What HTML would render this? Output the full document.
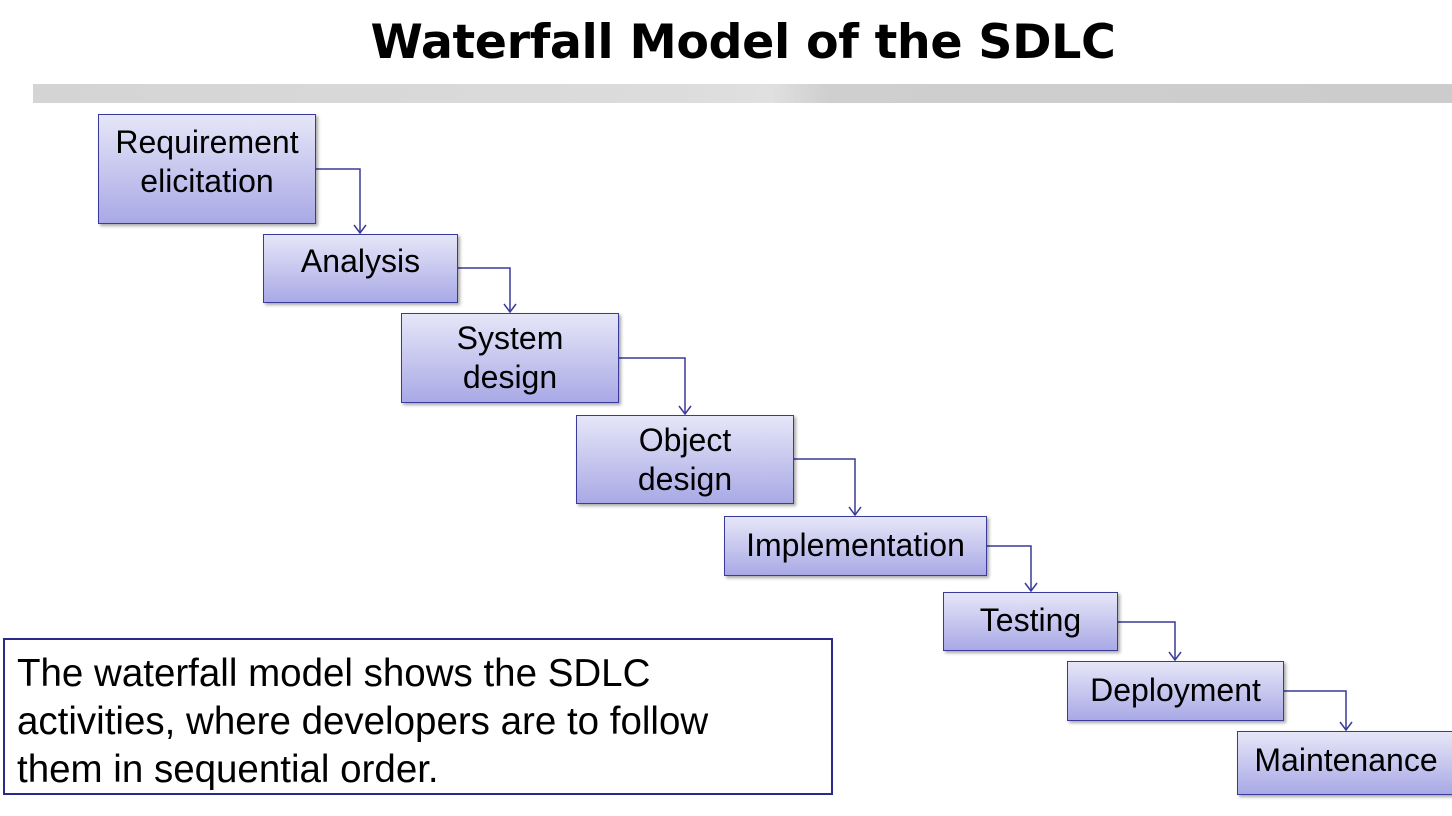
<!DOCTYPE html>
<html><head><meta charset="utf-8"><style>
body{margin:0;width:1452px;height:816px;background:#fff;position:relative;overflow:hidden;font-family:"Liberation Sans",Arial,sans-serif}
.title{position:absolute;left:0;width:1486px;top:15px;text-align:center;font-weight:bold;font-size:47.5px;color:#000;font-family:"DejaVu Sans","Liberation Sans",sans-serif;letter-spacing:-0.4px}
.bar{position:absolute;left:33px;top:84px;width:1419px;height:19px;background:linear-gradient(90deg,#d4d4d4 0%,#dcdcdc 45%,#e0e0e0 52%,#cfcfcf 56%,#cccccc 100%)}
.b{position:absolute;box-sizing:border-box;border:1.5px solid #3a3a9a;background:linear-gradient(#e6e6f8,#a9a9e6);box-shadow:2px 2px 3px rgba(0,0,0,.35);display:flex;align-items:center;justify-content:center;text-align:center;font-size:32px;line-height:39px;color:#000;white-space:nowrap}
.note{position:absolute;left:3px;top:638px;width:830px;height:157px;box-sizing:border-box;border:2px solid #2a2a8a;padding:10px 0 0 12px;font-size:38.5px;line-height:48px;color:#000;white-space:nowrap}
svg{position:absolute;left:0;top:0}
</style></head><body>
<div class="title">Waterfall Model of the SDLC</div>
<div class="bar"></div>
<svg width="1452" height="816">
<g fill="none" stroke="#3a3a9a" stroke-width="1.5">
<polyline points="316,169 360,169 360,233"/><polyline points="354,225 360,233 366,225"/>
<polyline points="458,268 510,268 510,312"/><polyline points="504,304 510,312 516,304"/>
<polyline points="619,358 685,358 685,414"/><polyline points="679,406 685,414 691,406"/>
<polyline points="794,459 855,459 855,515"/><polyline points="849,507 855,515 861,507"/>
<polyline points="987,546 1031,546 1031,591"/><polyline points="1025,583 1031,591 1037,583"/>
<polyline points="1118,622 1175,622 1175,660"/><polyline points="1169,652 1175,660 1181,652"/>
<polyline points="1284,691 1346,691 1346,730"/><polyline points="1340,722 1346,730 1352,722"/>
</g></svg>
<div class="b" style="left:98px;top:114px;width:218px;height:110px;padding-bottom:14px">Requirement<br>elicitation</div>
<div class="b" style="left:263px;top:234px;width:195px;height:69px;padding-bottom:14px">Analysis</div>
<div class="b" style="left:401px;top:313px;width:218px;height:90px;padding-bottom:0px">System<br>design</div>
<div class="b" style="left:576px;top:415px;width:218px;height:89px;padding-bottom:0px">Object<br>design</div>
<div class="b" style="left:724px;top:516px;width:263px;height:60px;padding-bottom:2px">Implementation</div>
<div class="b" style="left:943px;top:592px;width:175px;height:59px;padding-bottom:2px">Testing</div>
<div class="b" style="left:1067px;top:661px;width:217px;height:60px;padding-bottom:2px">Deployment</div>
<div class="b" style="left:1237px;top:731px;width:218px;height:64px;padding-bottom:6px">Maintenance</div>
<div class="note">The waterfall model shows the SDLC<br>activities, where developers are to follow<br>them in sequential order.</div>
</body></html>
